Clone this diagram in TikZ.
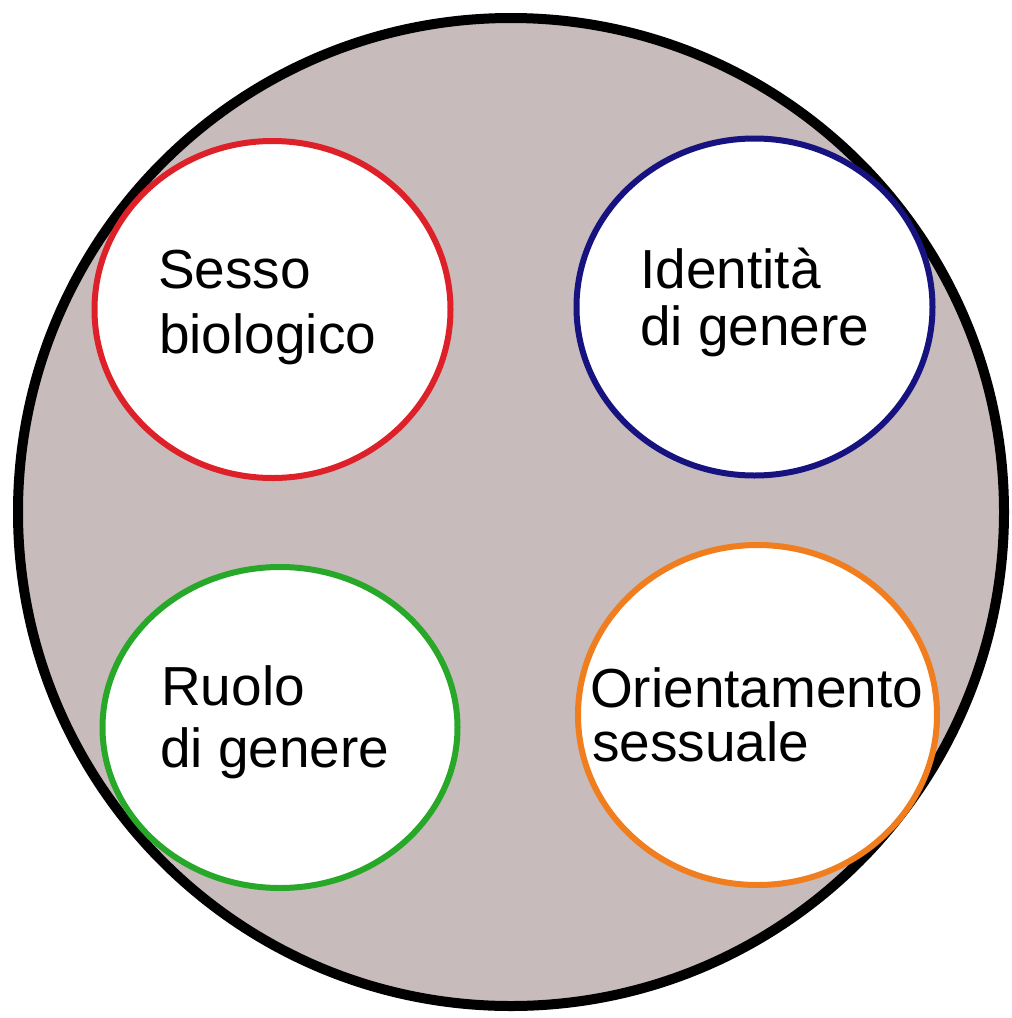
\documentclass[tikz,border=0pt]{standalone}
\usepackage{fontspec}
\setmainfont{Liberation Sans}
\definecolor{bgpink}{RGB}{199,187,187}
\definecolor{cred}{RGB}{222,32,40}
\definecolor{cblue}{RGB}{22,18,128}
\definecolor{cgreen}{RGB}{40,168,40}
\definecolor{corange}{RGB}{240,125,30}
\tikzset{
  bubble/.style={fill=white,line width=6pt},
  lbl/.style={anchor=base west,inner sep=0pt,font=\fontsize{55}{63}\selectfont}
}
\begin{document}
\begin{tikzpicture}[x=1pt,y=-1pt]
\useasboundingbox (0,0) rectangle (1012,1018);
\draw[fill=bgpink,line width=10pt] (511,512) ellipse [x radius=493,y radius=494];
\path[bubble,draw=cred] (272.5,309.5) ellipse [x radius=178,y radius=168.5];
\path[bubble,draw=cblue] (754.5,307) ellipse [x radius=178,y radius=168.5];
\path[bubble,draw=cgreen] (280,727.5) ellipse [x radius=177.5,y radius=160.5];
\path[bubble,draw=corange] (757.5,715) ellipse [x radius=179.5,y radius=170];
\node[lbl] (s1) at (158,288) {Sesso};
\node[lbl] (s2) at (159,353) {biologico};
\node[lbl] (i1) at (640,288) {Identità};
\node[lbl] (i2) at (640,345) {di genere};
\node[lbl] (r1) at (161,705) {Ruolo};
\node[lbl] (r2) at (160,767) {di genere};
\node[lbl] (o1) at (590,707) {Orientamento};
\node[lbl] (o2) at (592,761) {sessuale};
\end{tikzpicture}
\end{document}
